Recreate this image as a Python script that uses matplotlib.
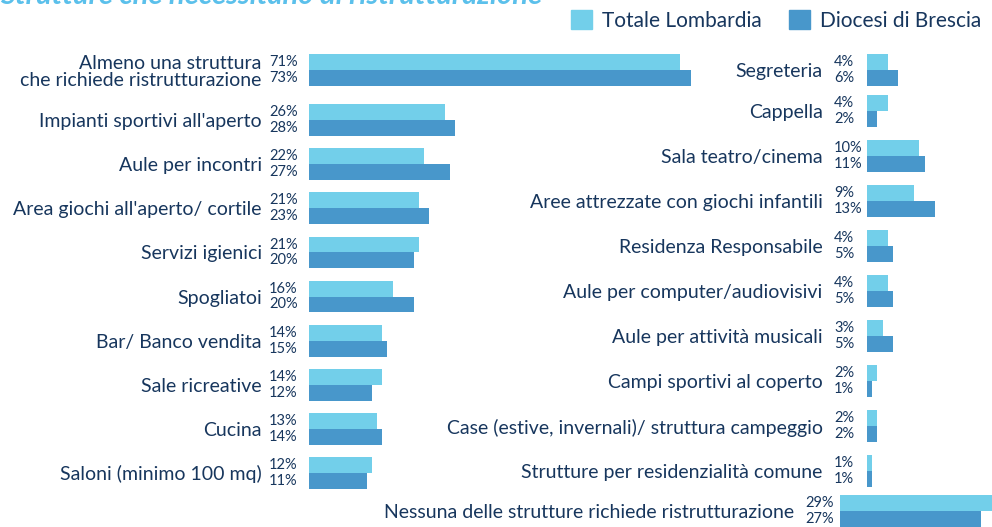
import matplotlib.pyplot as plt
from matplotlib.patches import Patch
import numpy as np

plt.rcParams['font.family'] = ['Lato', 'DejaVu Sans']

# dati
left_cats = ['Almeno una struttura\nche richiede ristrutturazione', "Impianti sportivi all'aperto",
             'Aule per incontri', "Area giochi all'aperto/ cortile", 'Servizi igienici', 'Spogliatoi',
             'Bar/ Banco vendita', 'Sale ricreative', 'Cucina', 'Saloni (minimo 100 mq)']
left_lomb = [71, 26, 22, 21, 21, 16, 14, 14, 13, 12]
left_bs = [73, 28, 27, 23, 20, 20, 15, 12, 14, 11]

right_cats = ['Segreteria', 'Cappella', 'Sala teatro/cinema', 'Aree attrezzate con giochi infantili',
              'Residenza Responsabile', 'Aule per computer/audiovisivi', 'Aule per attività musicali',
              'Campi sportivi al coperto', 'Case (estive, invernali)/ struttura campeggio',
              'Strutture per residenzialità comune']
right_lomb = [4, 4, 10, 9, 4, 4, 3, 2, 2, 1]
right_bs = [6, 2, 11, 13, 5, 5, 5, 1, 2, 1]

none_cats = ['Nessuna delle strutture richiede ristrutturazione']
none_lomb = [29]
none_bs = [27]

light = '#72CFEA'
dark = '#4897CB'
txt = '#17365D'

W, H = 992, 527
PX = 5.23  # pixel per punto percentuale
fig = plt.figure(figsize=(W / 100, H / 100), dpi=100)


def panel(rect, cats, lomb, bs, xmax, pct_off, pad, first_shift=0.0):
    ax = fig.add_axes(rect)
    y = np.arange(len(cats), dtype=float)
    y[0] += first_shift
    ax.barh(y - 0.18, lomb, height=0.36, color=light)
    ax.barh(y + 0.18, bs, height=0.36, color=dark)
    for i in range(len(cats)):
        ax.annotate(f'{lomb[i]}%', (0, y[i] - 0.18), xytext=(pct_off, 0), textcoords='offset pixels',
                    ha='left', va='center', fontsize=10.5, color=txt, annotation_clip=False)
        ax.annotate(f'{bs[i]}%', (0, y[i] + 0.18), xytext=(pct_off, 0), textcoords='offset pixels',
                    ha='left', va='center', fontsize=10.5, color=txt, annotation_clip=False)
    ax.set_yticks(y)
    ax.set_yticklabels(cats, fontsize=14, color=txt, linespacing=1.05)
    ax.tick_params(axis='y', length=0, pad=pad)
    ax.set_xticks([])
    ax.set_xlim(0, xmax)
    ax.set_ylim(len(cats) - 0.5, -0.5)
    for s in ax.spines.values():
        s.set_visible(False)
    ax.patch.set_alpha(0)
    return ax


# pannello sinistro
panel([309 / W, (H - 495) / H, 400 / W, 441 / H], left_cats, left_lomb, left_bs, 400 / PX, -40, 34, -0.133)
# pannello destro
panel([867 / W, (H - 493.5) / H, 125 / W, 450 / H], right_cats, right_lomb, right_bs, 125 / PX, -33, 32, 0.089)
# "Nessuna"
panel([840 / W, (H - 533) / H, 152 / W, 44 / H], none_cats, none_lomb, none_bs, 152 / PX, -35, 33)

# titolo (tagliato in alto)
fig.text(0.0, 1 - 4 / H, 'Strutture che necessitano di ristrutturazione', fontsize=21,
         fontweight='bold', fontstyle='italic', color='#5BC0EB', ha='left', va='baseline')

handles = [Patch(color=light, label='Totale Lombardia'), Patch(color=dark, label='Diocesi di Brescia')]
fig.legend(handles=handles, loc='upper right', bbox_to_anchor=(1.0, 1.0), ncol=2, frameon=False,
           fontsize=15, labelcolor=txt, handlelength=1.0, handleheight=1.0, handletextpad=0.5,
           columnspacing=1.3, borderaxespad=0.1)

plt.savefig('out.png', dpi=100)
